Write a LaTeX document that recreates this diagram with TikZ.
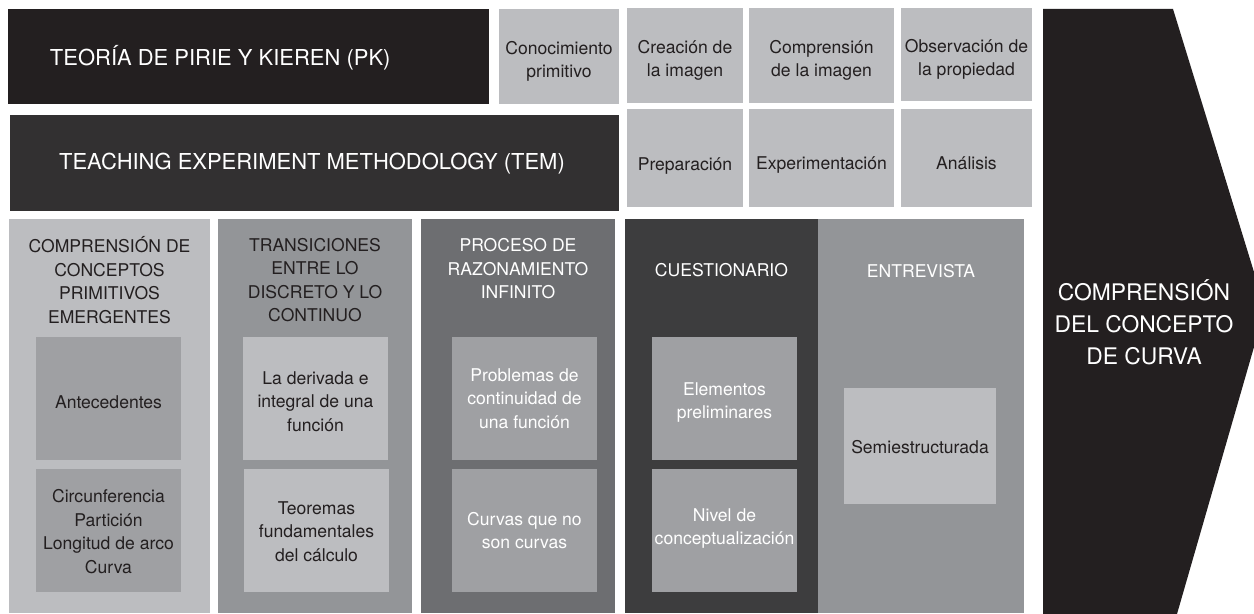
\documentclass[tikz,border=0pt]{standalone}
\usepackage{fontspec}
\setmainfont{TeX Gyre Heros}
\definecolor{kblack}{HTML}{231F20}
\definecolor{kdark}{HTML}{323031}
\definecolor{kcol}{HTML}{3D3D3E}
\definecolor{kslate}{HTML}{6D6E71}
\definecolor{kmid}{HTML}{939598}
\definecolor{kinner}{HTML}{9FA0A3}
\definecolor{klight}{HTML}{BCBDC0}
\def\kpx{0.02cm}
\tikzset{
  blk/.style={inner sep=0pt,outer sep=0pt,align=center,text=kblack,
    font=\fontsize{10}{13.4}\selectfont},
  bigtxt/.style={inner sep=0pt,outer sep=0pt,align=center,text=white,
    font=\fontsize{12.5}{18}\selectfont}
}
\begin{document}
\begin{tikzpicture}[x=0.02cm,y=-0.02cm]
\useasboundingbox (0,0) rectangle (1254,614);
% upper band: PK and TEM
\node[blk,fill=kblack,minimum width={481*\kpx},minimum height={95*\kpx}](pk) at (248.5,56.5){};
\node[bigtxt,anchor=west](pkT) at (50,58){TEORÍA DE PIRIE Y KIEREN (PK)};
\node[blk,fill=kdark,minimum width={609*\kpx},minimum height={96*\kpx}](tem) at (314.5,163){};
\node[bigtxt](temT) at (312,164){TEACHING EXPERIMENT METHODOLOGY (TEM)};
\foreach \nm/\xa/\ya/\xb/\yb/\dy/\lb in {k1/499/9/619/104/5/{Conocimiento\\primitivo},k2/627/8/743/103/5/{Creación de\\la imagen},k3/749/8/894/103/5/{Comprensión\\de la imagen},k4/901/8/1032/101/5/{Observación de\\la propiedad},t1/627/109/743/207/8/{Preparación},t2/749/109/894/207/7/{Experimentación},t3/901/109/1032/207/5/{Análisis}}
  {\node[blk,fill=klight,minimum width={(\xb-\xa)*\kpx},minimum height={(\yb-\ya)*\kpx}](\nm) at ({(\xa+\xb)/2},{(\ya+\yb)/2}){};
   \node[blk](\nm t) at ({(\xa+\xb)/2},{(\ya+\yb)/2+\dy}){\lb};}
% columns
\foreach \nm/\xa/\xb/\fc in {cA/9/210/klight,cB/218/412/kmid,cC/421/615/kslate,cD/625/818/kcol,cE/818/1024/kmid}
  {\node[blk,fill=\fc,minimum width={(\xb-\xa)*\kpx},minimum height={394*\kpx}](\nm) at ({(\xa+\xb)/2},416){};}
\node[blk](hA) at (cA.north|-0,280){COMPRENSIÓN DE\\CONCEPTOS\\PRIMITIVOS\\EMERGENTES};
\node[blk](hB) at (cB.north|-0,280){TRANSICIONES\\ENTRE LO\\DISCRETO Y LO\\CONTINUO};
\node[blk,text=white](hC) at (cC.north|-0,269){PROCESO DE\\RAZONAMIENTO\\INFINITO};
\node[blk,text=white](hD) at (cD.north|-0,270){CUESTIONARIO};
\node[blk,text=white](hE) at (cE.north|-0,271){ENTREVISTA};
% inner boxes
\foreach \nm/\xa/\ya/\xb/\yb/\dy/\fc/\tc/\lb in {a1/36/337/181/460/4/kinner/kblack/{Antecedentes},a2/36/469/181/592/1/kinner/kblack/{Circunferencia\\Partición\\Longitud de arco\\Curva},b1/243/337/388/460/3/klight/kblack/{La derivada e\\integral de una\\función},b2/244/469/389/592/1/klight/kblack/{Teoremas\\fundamentales\\del cálculo},c1/452/337/597/460/0/kinner/white/{Problemas de\\continuidad de\\una función},c2/452/469/597/592/0/kinner/white/{Curvas que no\\son curvas},d1/652/337/797/460/4/kinner/white/{Elementos\\preliminares},d2/652/469/797/592/-2/kinner/white/{Nivel de\\conceptualización},e1/844/388/996/504/1/klight/kblack/{Semiestructurada}}
  {\node[blk,fill=\fc,minimum width={(\xb-\xa)*\kpx},minimum height={(\yb-\ya)*\kpx}](\nm) at ({(\xa+\xb)/2},{(\ya+\yb)/2}){};
   \node[blk,text=\tc](\nm t) at ({(\xa+\xb)/2},{(\ya+\yb)/2+\dy}){\lb};}
% arrow
\fill[kblack] (1043,9)--(1173,9)--(1254,272)--(1254,347)--(1177,614)--(1043,614)--cycle;
\node[bigtxt,font=\fontsize{13}{18.2}\selectfont](res) at (1144,322){COMPRENSIÓN\\DEL CONCEPTO\\DE CURVA};
\end{tikzpicture}
\end{document}
